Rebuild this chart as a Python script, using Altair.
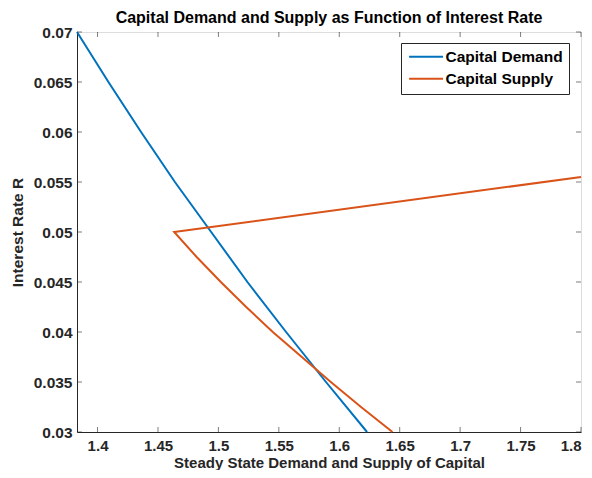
import altair as alt
import pandas as pd

# Capital demand (x = capital, y = interest rate)
demand_r = [0.07, 0.065, 0.06, 0.055, 0.05, 0.045, 0.04, 0.035, 0.03]
demand_k = [1.383, 1.409, 1.436, 1.464, 1.494, 1.524, 1.556, 1.589, 1.623]

# Capital supply path (in drawing order)
supply_r = [0.03, 0.0325, 0.035, 0.0375, 0.04, 0.0425, 0.045, 0.0475, 0.05, 0.0555]
supply_k = [1.644, 1.618, 1.593, 1.569, 1.545, 1.523, 1.502, 1.482, 1.4634, 1.8]

x_ticks = [1.4, 1.45, 1.5, 1.55, 1.6, 1.65, 1.7, 1.75, 1.8]
y_ticks = [0.03, 0.035, 0.04, 0.045, 0.05, 0.055, 0.06, 0.065, 0.07]

series_names = ["Capital Demand", "Capital Supply"]
colors = ["#0072BD", "#D95319"]

rows = []
for i, (k, r) in enumerate(zip(demand_k, demand_r)):
    rows.append({"K": k, "r": r, "series": series_names[0], "ord": i})
for i, (k, r) in enumerate(zip(supply_k, supply_r)):
    rows.append({"K": k, "r": r, "series": series_names[1], "ord": i})
df = pd.DataFrame(rows)

W, H = 504, 400
FONT = "Liberation Sans"
AX = "#262626"
FS = 15.5

common_axis = dict(tickSize=0, grid=False, domainColor=AX, labelColor=AX, titleColor=AX,
                   labelFont=FONT, labelFontWeight="bold",
                   titleFont=FONT, titleFontWeight="bold")

xaxis = alt.Axis(values=x_ticks, format=".2~f", labelPadding=6,
                 labelFontSize=15, titleFontSize=15,
                 title="Steady State Demand and Supply of Capital",
                 titleY=35, titleBaseline="alphabetic",
                 **common_axis)
yaxis = alt.Axis(values=y_ticks, format=".3~f", labelPadding=5,
                 labelFontSize=FS, titleFontSize=FS,
                 title="Interest Rate R", titlePadding=8,
                 **common_axis)

xscale = alt.Scale(domain=[1.383, 1.8], nice=False, zero=False)
yscale = alt.Scale(domain=[0.03, 0.07], nice=False, zero=False)

X = alt.X("K:Q", scale=xscale, axis=xaxis)
Y = alt.Y("r:Q", scale=yscale, axis=yaxis)

lines = alt.Chart(df).mark_line(strokeWidth=2).encode(
    x=X, y=Y,
    color=alt.Color("series:N", scale=alt.Scale(domain=series_names, range=colors),
                    legend=alt.Legend(title=None, orient="none", legendX=324, legendY=11,
                                      symbolType="M-1,0H5", symbolSize=128,
                                      symbolStrokeWidth=2, labelFontSize=15.5,
                                      labelFont=FONT, labelFontWeight="bold",
                                      labelColor="black",
                                      strokeColor=AX, fillColor="white",
                                      padding=6, rowPadding=5, labelOffset=23)),
    order="ord:Q",
)

xt = pd.DataFrame({"K": x_ticks})
yt = pd.DataFrame({"r": y_ticks})

tick_style = dict(color=AX, strokeWidth=0.6)
bottom_ticks = alt.Chart(xt).mark_rule(**tick_style).encode(x=X, y=alt.value(H), y2=alt.value(H - 5))
top_ticks = alt.Chart(xt).mark_rule(**tick_style).encode(x=X, y=alt.value(0), y2=alt.value(5))
left_ticks = alt.Chart(yt).mark_rule(**tick_style).encode(y=Y, x=alt.value(0), x2=alt.value(5))
right_ticks = alt.Chart(yt).mark_rule(**tick_style).encode(y=Y, x=alt.value(W), x2=alt.value(W - 5))

chart = alt.layer(lines, bottom_ticks, top_ticks, left_ticks, right_ticks).properties(
    width=W, height=H,
    title=alt.Title("Capital Demand and Supply as Function of Interest Rate",
                    font=FONT, fontSize=16, fontWeight="bold", color="black",
                    anchor="middle", offset=-1),
    autosize=alt.AutoSizeParams(type="none"),
    padding={"left": 69, "top": 24, "right": 3, "bottom": 38},
).configure_view(stroke=AX, strokeWidth=1).configure(background="white")

chart.save("out.html", embed_options={"renderer": "svg", "actions": False})
